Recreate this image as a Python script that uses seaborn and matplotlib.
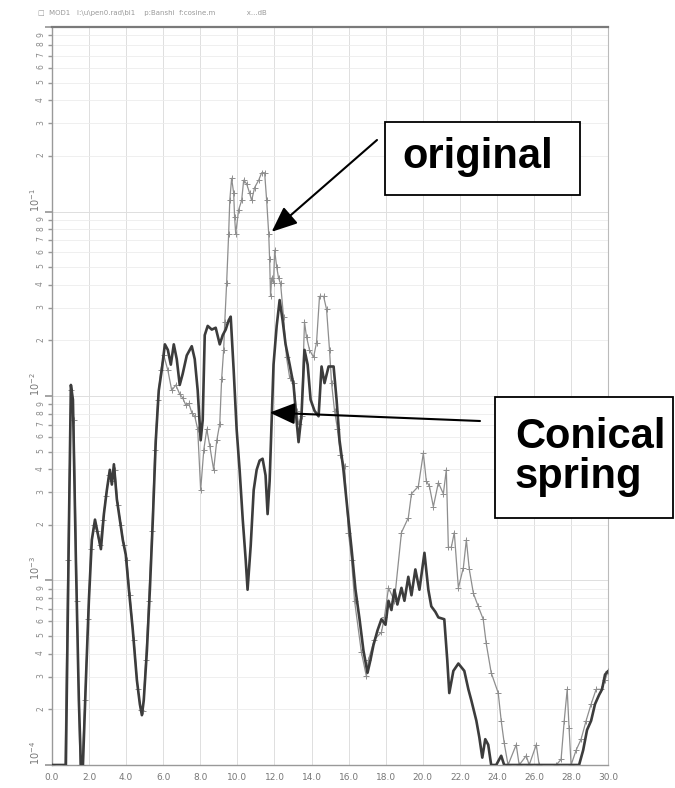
import numpy as np
import pandas as pd
import matplotlib
matplotlib.use("Agg")
import matplotlib.pyplot as plt
import seaborn as sns
from matplotlib.patches import Rectangle

# frequency axis (as printed on the plot) and log10 level of each trace
freq_conical = [0.0, 0.75, 0.92, 1.02, 1.13, 1.29, 1.45, 1.56, 1.67, 1.83, 1.99, 2.15, 2.32, 2.48, 2.64,
                2.80, 2.96, 3.12, 3.23, 3.34, 3.50, 3.66, 3.82, 3.98, 4.15, 4.36, 4.58, 4.74, 4.85, 4.95,
                5.12, 5.28, 5.44, 5.60, 5.76, 5.92, 6.09, 6.25, 6.41, 6.57, 6.73, 6.89, 7.05, 7.27, 7.54,
                7.70, 7.86, 8.02, 8.13, 8.24, 8.40, 8.62, 8.83, 9.05, 9.21, 9.37, 9.53, 9.64, 9.80, 9.96,
                10.12, 10.29, 10.45, 10.55, 10.72, 10.88, 11.04, 11.20, 11.36, 11.52, 11.63, 11.74, 11.85,
                11.95, 12.12, 12.28, 12.44, 12.60, 12.82, 13.03, 13.19, 13.30, 13.46, 13.62, 13.79, 13.95,
                14.16, 14.38, 14.54, 14.70, 14.92, 15.19, 15.35, 15.51, 15.72, 15.94, 16.16, 16.37, 16.59,
                16.80, 17.02, 17.18, 17.34, 17.56, 17.77, 17.99, 18.15, 18.31, 18.47, 18.63, 18.85, 19.01,
                19.22, 19.39, 19.60, 19.82, 20.09, 20.30, 20.46, 20.68, 20.84, 21.16, 21.32, 21.43, 21.65,
                21.92, 22.24, 22.46, 22.62, 22.89, 23.05, 23.21, 23.37, 23.53, 23.69, 23.96, 24.23, 24.39,
                28.43, 28.65, 28.86, 29.08, 29.29, 29.51, 29.67, 29.83, 30.0]
log_conical = [-4.00, -4.00, -2.67, -1.94, -2.02, -2.89, -3.65, -4.00, -4.00, -3.54, -3.11, -2.78, -2.67,
               -2.75, -2.83, -2.64, -2.51, -2.40, -2.48, -2.37, -2.56, -2.67, -2.78, -2.86, -3.05, -3.27,
               -3.54, -3.67, -3.73, -3.65, -3.38, -3.05, -2.67, -2.24, -1.97, -1.86, -1.72, -1.75, -1.83,
               -1.72, -1.80, -1.94, -1.88, -1.78, -1.73, -1.80, -1.97, -2.24, -2.13, -1.67, -1.62, -1.64,
               -1.63, -1.72, -1.67, -1.64, -1.59, -1.57, -1.86, -2.18, -2.40, -2.67, -2.89, -3.05, -2.81,
               -2.51, -2.40, -2.35, -2.34, -2.43, -2.64, -2.46, -2.13, -1.83, -1.62, -1.48, -1.59, -1.72,
               -1.83, -1.94, -2.13, -2.25, -2.10, -1.75, -1.83, -2.02, -2.08, -2.11, -1.84, -1.93, -1.84,
               -1.84, -2.02, -2.24, -2.40, -2.62, -2.83, -3.05, -3.21, -3.38, -3.50, -3.43, -3.35, -3.27,
               -3.21, -3.24, -3.11, -3.16, -3.05, -3.13, -3.04, -3.11, -2.98, -3.08, -2.94, -3.05, -2.85,
               -3.05, -3.14, -3.17, -3.20, -3.21, -3.43, -3.61, -3.49, -3.45, -3.49, -3.59, -3.65, -3.76,
               -3.85, -3.96, -3.86, -3.89, -4.00, -4.00, -3.95, -4.00,
               -4.00, -3.92, -3.81, -3.76, -3.67, -3.62, -3.59, -3.51, -3.49]

freq_original = [0.0, 0.70, 0.86, 1.02, 1.18, 1.35, 1.51, 1.62, 1.78, 1.94, 2.10, 2.26, 2.42, 2.58, 2.75,
                 2.91, 3.07, 3.23, 3.39, 3.55, 3.72, 3.88, 4.04, 4.20, 4.42, 4.63, 4.79, 4.90, 5.06, 5.22,
                 5.39, 5.55, 5.71, 5.87, 6.03, 6.25, 6.46, 6.68, 6.89, 7.05, 7.22, 7.38, 7.54, 7.70, 7.86,
                 8.02, 8.19, 8.35, 8.51, 8.72, 8.89, 9.05, 9.15, 9.26, 9.32, 9.42, 9.53, 9.59, 9.69, 9.80,
                 9.85, 9.91, 10.07, 10.23, 10.34, 10.50, 10.66, 10.77, 10.93, 11.15, 11.31, 11.47, 11.58,
                 11.69, 11.74, 11.79, 11.85, 11.95, 12.01, 12.12, 12.22, 12.33, 12.49, 12.65, 12.82, 13.03,
                 13.19, 13.30, 13.46, 13.62, 13.73, 13.89, 14.11, 14.27, 14.43, 14.65, 14.81, 14.97, 15.08,
                 15.24, 15.40, 15.56, 15.78, 15.99, 16.16, 16.32, 16.69, 16.96, 17.07, 17.39, 17.77, 17.93,
                 18.15, 18.47, 18.85, 19.22, 19.39, 19.76, 20.03, 20.19, 20.36, 20.57, 20.84, 21.11, 21.27,
                 21.38, 21.54, 21.70, 21.92, 22.19, 22.35, 22.51, 22.73, 22.99, 23.26, 23.42, 23.69, 24.07,
                 24.23, 24.39, 24.60, 25.04, 25.20, 25.58, 25.74, 26.12, 26.28, 27.19, 27.46, 27.63, 27.79,
                 27.89, 28.00, 28.27, 28.54, 28.81, 29.08, 29.35, 29.62, 29.83, 30.0]
log_original = [-4.00, -4.00, -2.89, -1.97, -2.13, -3.11, -4.00, -4.00, -3.65, -3.21, -2.83, -2.70, -2.73,
                -2.81, -2.67, -2.54, -2.43, -2.46, -2.40, -2.59, -2.70, -2.81, -2.89, -3.08, -3.32, -3.59,
                -3.70, -3.71, -3.43, -3.11, -2.73, -2.29, -2.02, -1.86, -1.78, -1.86, -1.97, -1.94, -1.99,
                -2.01, -2.05, -2.04, -2.09, -2.11, -2.18, -2.51, -2.29, -2.18, -2.27, -2.40, -2.24, -2.15,
                -1.91, -1.75, -1.60, -1.39, -1.12, -0.94, -0.82, -0.90, -1.03, -1.12, -0.99, -0.94, -0.83,
                -0.85, -0.90, -0.94, -0.87, -0.83, -0.79, -0.79, -0.94, -1.12, -1.26, -1.46, -1.36, -1.39,
                -1.21, -1.30, -1.36, -1.39, -1.57, -1.79, -1.90, -1.93, -2.08, -2.15, -2.11, -1.60, -1.68,
                -1.75, -1.79, -1.71, -1.46, -1.46, -1.53, -1.75, -1.93, -2.08, -2.18, -2.32, -2.38, -2.74,
                -2.89, -3.11, -3.39, -3.52, -3.43, -3.32, -3.28, -3.20, -3.04, -3.11, -2.74, -2.66, -2.53,
                -2.49, -2.31, -2.46, -2.49, -2.60, -2.47, -2.53, -2.40, -2.82, -2.82, -2.74, -3.04, -2.93,
                -2.78, -2.94, -3.07, -3.14, -3.21, -3.34, -3.50, -3.61, -3.76, -3.88, -4.00, -3.89, -4.00,
                -3.95, -4.00, -3.89, -4.00, -4.00, -3.97, -3.76, -3.59, -3.80, -4.00, -3.92, -3.86, -3.76,
                -3.67, -3.59, -3.59, -3.54, -3.49]

x_ticks = [0, 2, 4, 6, 8, 10, 12, 14, 16, 18, 20, 22, 24, 26, 28, 30]
x_tick_labels = ["0.0", "2.0", "4.0", "6.0", "8.0", "10.0", "12.0", "14.0", "16.0", "18.0",
                 "20.0", "22.0", "24.0", "26.0", "28.0", "30.0"]
decade_exps = [-4, -3, -2, -1, 0]
minor_digits = [2, 3, 4, 5, 6, 7, 8, 9]

sns.set_theme(style="white")
plt.rcParams['font.family'] = ['DejaVu Sans']

fig = plt.figure(figsize=(6.75, 7.88), dpi=100)
ax = fig.add_axes([0.077, 0.0292, 0.824, 0.9365])

df_orig = pd.DataFrame({"freq": freq_original, "level": np.power(10.0, log_original)})
df_con = pd.DataFrame({"freq": freq_conical, "level": np.power(10.0, log_conical)})

sns.lineplot(data=df_orig, x="freq", y="level", sort=False, estimator=None, ax=ax,
             color="#8e8e8e", lw=0.9, marker="+", markersize=4, markeredgewidth=0.7,
             markeredgecolor="#8e8e8e", zorder=3)
sns.lineplot(data=df_con, x="freq", y="level", sort=False, estimator=None, ax=ax,
             color="#3c3c3c", lw=1.9, zorder=4)

ax.set_yscale("log")
ax.set_xlim(0, 30)
ax.set_ylim(1e-4, 1)
ax.set_xlabel("")
ax.set_ylabel("")

# ticks
ax.set_xticks(x_ticks, labels=x_tick_labels)
major_pos = [10.0 ** e for e in decade_exps]
major_lab = ["$10^{%d}$" % e if e < 0 else "" for e in decade_exps]
ax.set_yticks(major_pos, labels=major_lab)
minor_pos = [d * 10.0 ** e for e in decade_exps[:-1] for d in minor_digits]
minor_lab = [str(d) for e in decade_exps[:-1] for d in minor_digits]
ax.set_yticks(minor_pos, labels=minor_lab, minor=True)
for t in ax.get_yticklabels():
    t.set_rotation(90)
    t.set_va("bottom")
    t.set_fontsize(7)
    t.set_color("#777777")
for t in ax.get_yticklabels(minor=True):
    t.set_rotation(90)
    t.set_fontsize(5.5)
    t.set_color("#888888")
ax.tick_params(axis="x", labelsize=6.5, labelcolor="#777777", length=3, color="#999999", pad=3)
ax.tick_params(axis="y", which="both", left=True, length=3, color="#999999", pad=2)
ax.tick_params(axis="y", which="major", length=5)

ax.grid(which="major", color="#dedede", lw=0.7)
ax.grid(which="minor", axis="y", color="#ececec", lw=0.6)

for side, col, w in [("top", "#7a7a7a", 1.6), ("left", "#999999", 1.0),
                     ("bottom", "#999999", 1.0), ("right", "#bbbbbb", 0.8)]:
    ax.spines[side].set_visible(True)
    ax.spines[side].set_color(col)
    ax.spines[side].set_linewidth(w)

# scanned header line
fig.text(0.056, 0.984, "\u25a1  MOD1   I:\\u\\pen0.rad\\bi1    p:Banshi  f:cosine.m              x...dB",
         fontsize=5, color="#999999", va="center")

# annotation boxes
W, H = 675.0, 788.0
fig.patches.append(Rectangle((385 / W, 1 - 195 / H), 195 / W, 73 / H, transform=fig.transFigure,
                             fill=True, facecolor="white", edgecolor="black", lw=1.3, zorder=10))
fig.patches.append(Rectangle((495 / W, 1 - 518 / H), 178 / W, 121 / H, transform=fig.transFigure,
                             fill=True, facecolor="white", edgecolor="black", lw=1.3, zorder=10))
box_font = dict(family="Liberation Sans", weight="bold", fontsize=30, color="black", zorder=11)
fig.text(478 / W, 1 - 168 / H, "original", ha="center", va="baseline", **box_font)
fig.text(515 / W, 1 - 448 / H, "Conical", ha="left", va="baseline", **box_font)
fig.text(515 / W, 1 - 488 / H, "spring", ha="left", va="baseline", **box_font)

arrow = dict(arrowstyle="-|>,head_length=1.3,head_width=0.55", color="black", lw=1.5,
             shrinkA=0, shrinkB=0)
ax.annotate("", xy=(11.85, 10 ** -1.11), xycoords="data",
            xytext=(377 / W, 1 - 140 / H), textcoords="figure fraction", arrowprops=arrow, zorder=12)
ax.annotate("", xy=(11.74, 10 ** -2.09), xycoords="data",
            xytext=(480 / W, 1 - 421 / H), textcoords="figure fraction", arrowprops=arrow, zorder=12)

fig.savefig("out.png", dpi=100)
